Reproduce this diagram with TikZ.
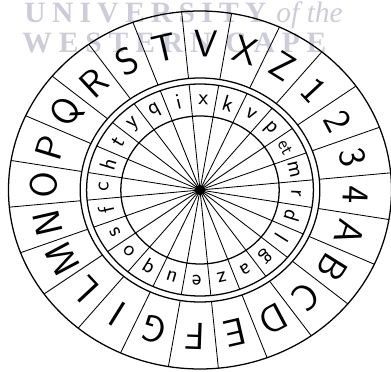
\documentclass[tikz,border=0pt]{standalone}
\usepackage{fontspec}
\newfontfamily\wmfont{Liberation Serif}
\definecolor{wmgray}{RGB}{204,204,218}
\tikzset{
  capletter/.style={font=\sffamily\fontsize{27}{27}\selectfont},
  smallletter/.style={font=\sffamily\fontsize{16}{16}\selectfont},
  watermark/.style={wmgray,anchor=base west,inner sep=0pt,font=\wmfont\bfseries\fontsize{21}{21}\selectfont},
}
\begin{document}
\begin{tikzpicture}[x=0.25mm,y=0.25mm,line width=0.6pt]
\useasboundingbox (0,0) rectangle (391,371);
% faint stamp behind the disk
\node[watermark] (wmtop) at (24,348) {\makebox[60.5mm][s]{U\hfill N\hfill I\hfill V\hfill E\hfill R\hfill S\hfill I\hfill T\hfill Y}};
\node[watermark,font=\wmfont\itshape\fontsize{21}{21}\selectfont] (wmof) at (276,348) {of the};
\node[watermark] (wmbot) at (22,318) {\makebox[76mm][s]{W\hfill E\hfill S\hfill T\hfill E\hfill R\hfill N\hfill\hfill C\hfill A\hfill P\hfill E}};
\begin{scope}[shift={(200,181)},xscale=1.07]
\coordinate (c) at (0,0);
\draw[line width=0.9pt] (c) circle (179) (c) circle (112) (c) circle (106) (c) circle (74);
\foreach \k in {0,...,23} {
  \draw (c) -- (-9.5+15*\k:106);
  \draw (-9.5+15*\k:112) -- (-9.5+15*\k:179);
}
\foreach \l [count=\i, evaluate=\i as \ang using -2-15*\i] in {A,B,C,D,E,F,G,I,L,M,N,O,P,Q,R,S,T,V,X,Z,1,2,3,4}
  \node[capletter,rotate=\ang-90] (out\i) at (\ang:146) {\l};
\foreach \l [count=\i, evaluate=\i as \ang using -2-15*\i] in {d,l,g,a,z,e,u,q,o,s,f,c,h,t,y,q,i,x,k,v,p,{{\fontsize{13}{13}\selectfont et}},m,r}
  \node[smallletter,rotate=\ang-90,inner sep=1pt] (in\i) at (\ang:90) {\l};
\fill (c) circle (5);
\end{scope}
\end{tikzpicture}
\end{document}
